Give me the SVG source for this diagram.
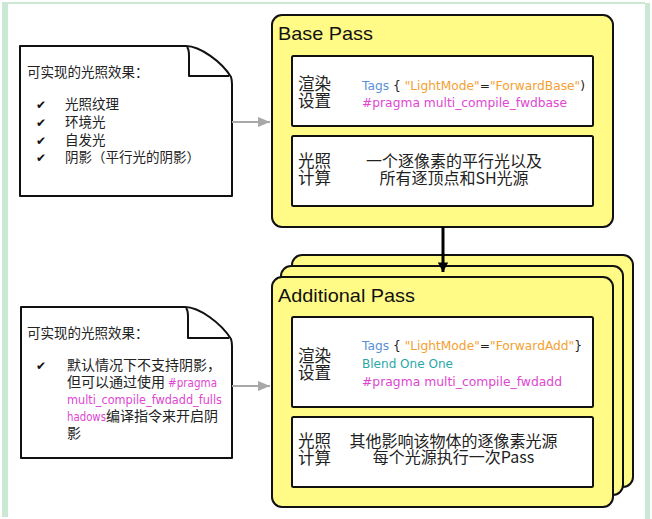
<svg xmlns="http://www.w3.org/2000/svg" width="652" height="519" viewBox="0 0 652 519">
<style>
.frame{fill:#cbe8d4}
.note{fill:#fff;stroke:#111;stroke-width:2;stroke-linejoin:round}
.flap{fill:none;stroke:#111;stroke-width:2;stroke-linejoin:round}
.card{fill:#fffb86;stroke:#111;stroke-width:2}
.inner{fill:#fff;stroke:#111;stroke-width:2}
.cn{font-family:"Noto Sans CJK SC","DejaVu Sans",sans-serif;fill:#222}
.nt{font-size:13.5px}
.lb{font-size:16.5px}
.bd{font-size:16px}
.ttl{font-family:"Liberation Sans",Arial,sans-serif;font-size:19px;fill:#111}
.code{font-family:"DejaVu Sans","Liberation Sans",sans-serif;font-size:12.5px}
.ck{font-family:"DejaVu Sans",sans-serif;font-size:12px;fill:#111}
.blue{fill:#5a8fd6}.org{fill:#f5a030}.mag{fill:#e046d2}.teal{fill:#2aa8a8}.blk{fill:#222}
.garr{stroke:#a8a8a8;stroke-width:2;fill:none}
</style>
<defs>
<marker id="ga" viewBox="0 0 12 10" refX="12" refY="5" markerWidth="12" markerHeight="10" markerUnits="userSpaceOnUse" orient="auto">
<path d="M0,0 L12,5 L0,10 Z" fill="#a8a8a8"/>
</marker>
<marker id="ba" viewBox="0 0 12 15" refX="12" refY="7.5" markerWidth="15" markerHeight="12" markerUnits="userSpaceOnUse" orient="auto">
<path d="M0,1 L12,7.5 L0,14 Z" fill="#000"/>
</marker>
</defs>
<rect class="frame" x="2" y="2" width="643" height="2"/>
<rect class="frame" x="2" y="3" width="6" height="514"/>
<rect class="frame" x="645" y="3" width="5" height="516"/>

<g id="note1">
<path class="note" d="M20,46 H186 C200,46 222,62 231,77 Q232,80 232,84 V196 H20 Z"/>
<path class="flap" d="M187,47 C189,49 189,52 189,56 V76 H229"/>
<text class="cn nt" x="27" y="77">可实现的光照效果：</text>
<text class="ck" x="36" y="109">✔</text>
<text class="cn nt" x="65" y="109">光照纹理</text>
<text class="ck" x="36" y="127">✔</text>
<text class="cn nt" x="65" y="127">环境光</text>
<text class="ck" x="36" y="145">✔</text>
<text class="cn nt" x="65" y="145">自发光</text>
<text class="ck" x="36" y="162">✔</text>
<text class="cn nt" x="65" y="162">阴影（平行光的阴影）</text>
</g>

<g id="note2">
<path class="note" d="M21,307 H185 C199,307 221,323 231,339 Q232,342 232,346 V458 H21 Z"/>
<path class="flap" d="M186,308 C188,310 188,313 188,317 V338 H229"/>
<text class="cn nt" x="27" y="338">可实现的光照效果：</text>
<text class="ck" x="36" y="370">✔</text>
<text class="cn nt" x="67" y="370" style="font-size:14px">默认情况下不支持阴影，</text>
<text class="cn nt" x="67" y="387" style="font-size:14px">但可以通过使用</text>
<text class="code mag" x="168" y="387" textLength="49" lengthAdjust="spacingAndGlyphs" style="font-size:12px">#pragma</text>
<text class="code mag" x="67" y="404" textLength="155" lengthAdjust="spacingAndGlyphs" style="font-size:12px">multi_compile_fwdadd_fulls</text>
<text class="code mag" x="67" y="421" textLength="39" lengthAdjust="spacingAndGlyphs" style="font-size:12px">hadows</text>
<text class="cn nt" x="106" y="421" style="font-size:14px">编译指令来开启阴</text>
<text class="cn nt" x="67" y="438" style="font-size:14px">影</text>
</g>

<g id="base-pass">
<rect class="card" x="272" y="15" width="341" height="212" rx="10"/>
<text class="ttl" x="278" y="40" textLength="95" lengthAdjust="spacingAndGlyphs">Base Pass</text>
<rect class="inner" x="292" y="56" width="301" height="70" rx="1.5"/>
<text class="cn lb" x="298" y="90">渲染</text>
<text class="cn lb" x="298" y="107">设置</text>
<text class="code" x="362" y="90" textLength="223" lengthAdjust="spacingAndGlyphs"><tspan class="blue">Tags</tspan><tspan class="blk"> { </tspan><tspan class="org">"LightMode"</tspan><tspan class="blk">=</tspan><tspan class="org">"ForwardBase"</tspan><tspan class="blk">)</tspan></text>
<text class="code mag" x="362" y="107" textLength="205" lengthAdjust="spacingAndGlyphs">#pragma multi_compile_fwdbase</text>
<rect class="inner" x="292" y="136" width="301" height="70" rx="1.5"/>
<text class="cn lb" x="298" y="166.5">光照</text>
<text class="cn lb" x="298" y="183.5">计算</text>
<text class="cn bd" x="454" y="166.5" text-anchor="middle">一个逐像素的平行光以及</text>
<text class="cn bd" x="454" y="183.5" text-anchor="middle">所有逐顶点和SH光源</text>
</g>

<g id="additional-pass">
<rect class="card" x="292" y="255" width="341" height="232" rx="10"/>
<rect class="card" x="281" y="266" width="342" height="229" rx="10"/>
<rect class="card" x="272" y="277" width="341" height="230" rx="10"/>
<text class="ttl" x="278" y="302" textLength="137" lengthAdjust="spacingAndGlyphs">Additional Pass</text>
<rect class="inner" x="292" y="317" width="301" height="90" rx="1.5"/>
<text class="cn lb" x="298" y="361.5">渲染</text>
<text class="cn lb" x="298" y="378.5">设置</text>
<text class="code" x="362" y="350" textLength="220" lengthAdjust="spacingAndGlyphs"><tspan class="blue">Tags</tspan><tspan class="blk"> { </tspan><tspan class="org">"LightMode"</tspan><tspan class="blk">=</tspan><tspan class="org">"ForwardAdd"</tspan><tspan class="blk">}</tspan></text>
<text class="code teal" x="362" y="368" textLength="91" lengthAdjust="spacingAndGlyphs">Blend One One</text>
<text class="code mag" x="362" y="386" textLength="200" lengthAdjust="spacingAndGlyphs">#pragma multi_compile_fwdadd</text>
<rect class="inner" x="292" y="417" width="301" height="70" rx="1.5"/>
<text class="cn lb" x="298" y="446.5">光照</text>
<text class="cn lb" x="298" y="464">计算</text>
<text class="cn bd" x="453.5" y="446.5" text-anchor="middle">其他影响该物体的逐像素光源</text>
<text class="cn bd" x="453.5" y="463" text-anchor="middle">每个光源执行一次Pass</text>
</g>

<g id="connectors">
<line class="garr" x1="232" y1="122" x2="270" y2="122" marker-end="url(#ga)"/>
<line class="garr" x1="232" y1="386" x2="270" y2="386" marker-end="url(#ga)"/>
<line x1="443" y1="227" x2="443" y2="272" stroke="#000" stroke-width="3" marker-end="url(#ba)"/>
</g>
</svg>
